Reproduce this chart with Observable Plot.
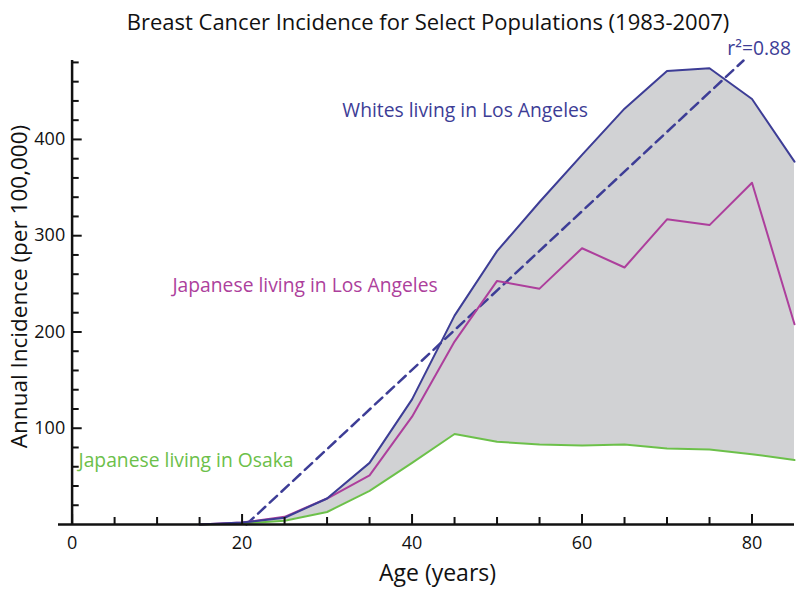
<!DOCTYPE html>
<html>
<head>
<meta charset="utf-8">
<script src="https://cdn.jsdelivr.net/npm/d3@7"></script>
<script src="https://cdn.jsdelivr.net/npm/@observablehq/plot@0.6"></script>
<style>
  html, body { margin: 0; padding: 0; background: #fff; }
  svg { display: block; }
</style>
</head>
<body>
<div id="chart"></div>
<script>
const ages = [15, 20, 25, 30, 35, 40, 45, 50, 55, 60, 65, 70, 75, 80, 85];
const whitesLA = [0, 2, 7, 27, 64, 130, 217, 284, 335, 384, 432, 471, 474, 442, 377];
const japaneseLA = [0, 2, 8, 27, 51, 112, 190, 253, 245, 287, 267, 317, 311, 355, 208];
const japaneseOsaka = [0, 1, 4, 13, 35, 64, 94, 86, 83, 82, 83, 79, 78, 73, 67];
const fitAges = [20.5, 79];
const fitValues = [0, 482];
const xMajorTicks = [0, 20, 40, 60, 80];
const xMinorTicks = [5, 10, 15, 25, 30, 35, 45, 50, 55, 65, 70, 75];
const yMajorTicks = [100, 200, 300, 400];
const yMinorTicks = [20, 40, 60, 80, 120, 140, 160, 180, 220, 240, 260, 280, 320, 340, 360, 380, 420, 440, 460, 480];

const rows = ages.map((a, i) => ({age: a, white: whitesLA[i], la: japaneseLA[i], osaka: japaneseOsaka[i]}));
const fit = fitAges.map((a, i) => ({age: a, v: fitValues[i]}));

const font = "'Open Sans', sans-serif";
const blue = "#3d3d96";
const magenta = "#ad3f9c";
const green = "#6cc04a";
const yAxisShift = 13.7;

const chart = Plot.plot({
  width: 800,
  height: 596,
  marginLeft: 58,
  marginRight: 6,
  marginTop: 60,
  marginBottom: 72,
  style: {fontFamily: font, background: "#fff", color: "#111"},
  x: {domain: [-1.6, 85], axis: null},
  y: {domain: [0, 482], axis: null},
  marks: [
    Plot.areaY(rows, {x: "age", y1: "osaka", y2: "white", fill: "#d1d2d4"}),
    Plot.line(fit, {x: "age", y: "v", stroke: blue, strokeWidth: 2.5, strokeDasharray: "10,6"}),
    Plot.line(rows, {x: "age", y: "osaka", stroke: green, strokeWidth: 2}),
    Plot.line(rows, {x: "age", y: "la", stroke: magenta, strokeWidth: 2}),
    Plot.line(rows, {x: "age", y: "white", stroke: blue, strokeWidth: 2}),
    // axes
    Plot.axisX(xMajorTicks, {anchor: "bottom", tickSize: -10, strokeWidth: 2, tickFormat: () => "", label: null}),
    Plot.axisX(xMinorTicks, {anchor: "bottom", tickSize: -7, strokeWidth: 2, tickFormat: () => "", label: null}),
    Plot.axisX(xMajorTicks, {anchor: "bottom", tickSize: 0, tickPadding: 12, fontSize: 18, fill: "#111", label: null}),
    Plot.axisY(yMajorTicks, {anchor: "left", tickSize: -10, strokeWidth: 2, dx: yAxisShift, tickFormat: () => "", label: null}),
    Plot.axisY(yMinorTicks, {anchor: "left", tickSize: -7, strokeWidth: 2, dx: yAxisShift, tickFormat: () => "", label: null}),
    Plot.axisY(yMajorTicks, {anchor: "left", tickSize: 0, tickPadding: 7, dx: yAxisShift, fontSize: 18, fill: "#111", label: null}),
    Plot.ruleY([0], {stroke: "#111", strokeWidth: 2.5}),
    Plot.ruleX([0], {stroke: "#111", strokeWidth: 2.5}),
    // labels
    Plot.text(["Whites living in Los Angeles"], {x: 31.8, y: 430, text: d => d, textAnchor: "start", fill: blue, fontSize: 19.3}),
    Plot.text(["Japanese living in Los Angeles"], {x: 11.8, y: 248, text: d => d, textAnchor: "start", fill: magenta, fontSize: 19.3}),
    Plot.text(["Japanese living in Osaka"], {x: 0.75, y: 66, text: d => d, textAnchor: "start", fill: green, fontSize: 19.3}),
    Plot.text(["r\u00B2=0.88"], {x: 84.6, y: 494, text: d => d, textAnchor: "end", fill: blue, fontSize: 19.3}),
    // titles
    Plot.text(["Breast Cancer Incidence for Select Populations (1983-2007)"], {frameAnchor: "top", dx: 1.5, dy: -46, text: d => d, fontSize: 22, fill: "#111"}),
    Plot.text(["Age (years)"], {frameAnchor: "bottom", dx: 11, dy: 56, text: d => d, fontSize: 23, fill: "#111"}),
    Plot.text(["Annual Incidence (per 100,000)"], {frameAnchor: "left", textAnchor: "middle", dx: -39, dy: -6, rotate: -90, text: d => d, fontSize: 22.5, fill: "#111"})
  ]
});
document.getElementById("chart").appendChild(chart);
</script>
</body>
</html>
